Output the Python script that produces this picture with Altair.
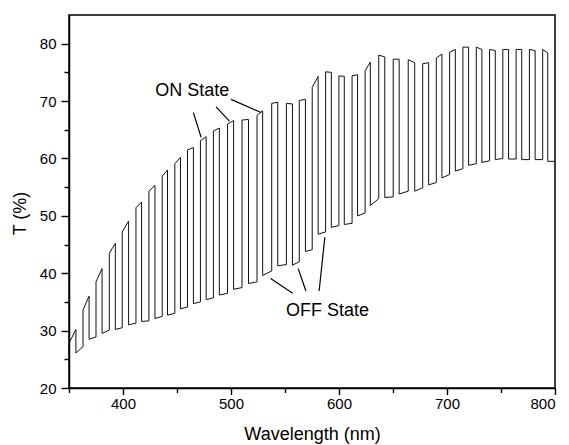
import altair as alt
import pandas as pd

# ---- data ----
# wavelength (nm) where each ON segment starts (rise) and ends (drop)
on_rise = [350.0, 363.0, 375.0, 387.3, 399.3, 412.0, 424.0, 436.3, 448.0, 459.7,
           471.7, 483.7, 496.8, 510.2, 524.1, 537.7, 551.3, 563.2, 575.2, 587.6,
           599.9, 612.1, 624.2, 636.8, 650.2, 664.1, 677.5, 690.1, 702.4, 714.7,
           727.1, 739.4, 751.7, 764.0, 776.3, 788.6]
off_drop = [356.4, 368.6, 380.6, 392.9, 405.2, 417.2, 429.6, 441.2, 453.2, 465.2,
            477.0, 489.2, 502.4, 516.2, 529.3, 543.3, 556.9, 568.9, 580.7, 592.9,
            604.9, 617.2, 629.0, 642.4, 655.7, 670.1, 683.0, 695.3, 707.7, 720.0,
            732.3, 744.7, 757.0, 769.2, 781.6, 793.3]
# transmittance (%) at start/end of each ON segment
on_start = [27.8, 33.6, 38.5, 43.5, 47.2, 51.4, 54.3, 56.9, 59.1, 61.5,
            63.1, 64.8, 66.0, 66.7, 67.5, 69.6, 69.6, 70.1, 72.4, 75.1,
            74.4, 74.4, 75.3, 78.0, 77.3, 77.2, 76.5, 77.5, 78.5, 79.4,
            79.4, 79.0, 79.0, 79.0, 79.0, 79.0]
on_end = [30.2, 36.0, 40.8, 45.2, 49.1, 52.4, 55.3, 58.0, 60.2, 61.9,
          63.8, 65.3, 66.6, 66.8, 68.3, 69.8, 69.5, 70.3, 74.3, 75.0,
          74.3, 74.6, 76.8, 77.7, 77.3, 76.7, 76.7, 78.2, 79.0, 79.4,
          79.0, 78.8, 79.0, 79.0, 78.8, 78.4]
# transmittance (%) at start/end of each OFF segment
off_start = [26.1, 28.5, 29.5, 30.2, 31.0, 31.6, 32.1, 32.7, 33.8, 34.7,
             35.4, 36.2, 37.2, 38.2, 39.6, 41.3, 41.4, 43.8, 46.8, 48.0,
             48.5, 50.0, 51.8, 53.2, 53.8, 54.3, 55.4, 56.6, 57.8, 58.8,
             59.3, 59.8, 59.9, 59.8, 59.8, 59.5]
off_end = [27.2, 28.9, 30.1, 30.5, 31.3, 31.7, 32.5, 33.0, 34.1, 35.0,
           35.7, 36.5, 37.5, 38.5, 40.4, 41.5, 42.0, 44.1, 47.2, 48.3,
           48.7, 50.5, 53.0, 53.3, 54.3, 54.9, 55.8, 57.2, 58.2, 59.1,
           59.6, 60.0, 59.9, 59.8, 59.8, 59.5]
start_t = 25.2
end_wl = 800.0

# annotations
label_text = ["ON State", "OFF State"]
label_x = [429.8, 550.9]
label_y = [70.8, 32.5]
lead_x = [465.2, 486.2, 500.1, 536.7, 562.2, 586.9]
lead_y = [68.0, 69.0, 70.3, 39.1, 40.8, 46.3]
lead_x2 = [472.3, 498.5, 527.8, 557.1, 569.4, 581.6]
lead_y2 = [63.7, 66.5, 68.0, 36.5, 36.9, 36.9]

x_major = [400, 500, 600, 700, 800]
x_minor = [350, 450, 550, 650, 750]
y_major = [20, 30, 40, 50, 60, 70, 80]
y_minor = [25, 35, 45, 55, 65, 75]

# ---- build line vertices ----
wl, tt = [on_rise[0]], [start_t]
n = len(on_rise)
for i in range(n):
    nxt = on_rise[i + 1] if i + 1 < n else end_wl
    wl += [on_rise[i], off_drop[i], off_drop[i], nxt]
    tt += [on_start[i], on_end[i], off_start[i], off_end[i]]
line_df = pd.DataFrame({"wl": wl, "T": tt, "order": list(range(len(wl)))})
lead_df = pd.DataFrame({"x": lead_x, "y": lead_y, "x2": lead_x2, "y2": lead_y2})
text_df = pd.DataFrame({"x": label_x, "y": label_y, "t": label_text})

FONT = "Liberation Sans"
xs = alt.Scale(domain=[350, 800], nice=False, zero=False)
ys = alt.Scale(domain=[20, 85], nice=False, zero=False)

x_axis = alt.Axis(values=x_major, tickSize=6.5, tickWidth=1.4, tickColor="black",
                  domainColor="black", domainWidth=1.5, labelFontSize=15,
                  labelFont=FONT, labelColor="black", labelPadding=2,
                  title="Wavelength (nm)", titleFont=FONT, titleFontSize=18,
                  titleFontWeight="normal", titleColor="black", titlePadding=14,
                  grid=False, orient="bottom")
y_axis = alt.Axis(values=y_major, tickSize=8, tickWidth=1.4, tickColor="black",
                  domainColor="black", domainWidth=1.5, labelFontSize=15,
                  labelFont=FONT, labelColor="black", labelPadding=5,
                  title="T (%)", titleFont=FONT, titleFontSize=18,
                  titleFontWeight="normal", titleColor="black",
                  titleX=-40, titleY=198, grid=False, orient="left")
x_axis_minor = alt.Axis(values=x_minor, tickSize=4.5, tickWidth=1.4, tickColor="black",
                        domain=False, labels=False, title=None, grid=False, orient="bottom")
y_axis_minor = alt.Axis(values=y_minor, tickSize=5, tickWidth=1.4, tickColor="black",
                        domain=False, labels=False, title=None, grid=False, orient="left")

line = alt.Chart(line_df).mark_line(color="#111111", strokeWidth=1.0).encode(
    x=alt.X("wl:Q", scale=xs, axis=x_axis),
    y=alt.Y("T:Q", scale=ys, axis=y_axis),
    order="order:Q",
)
leads = alt.Chart(lead_df).mark_rule(color="black", strokeWidth=1.2).encode(
    x=alt.X("x:Q", scale=xs, axis=x_axis_minor),
    y=alt.Y("y:Q", scale=ys, axis=y_axis_minor),
    x2="x2:Q",
    y2="y2:Q",
)
texts = alt.Chart(text_df).mark_text(align="left", baseline="alphabetic",
                                     fontSize=18, font=FONT, color="black").encode(
    x=alt.X("x:Q", scale=xs, axis=None),
    y=alt.Y("y:Q", scale=ys, axis=None),
    text="t:N",
)

chart = alt.layer(line, leads, texts).resolve_axis(
    x="independent", y="independent"
).properties(
    width=486, height=373,
    padding={"left": 61, "top": 7, "right": 5, "bottom": 57},
    autosize=alt.AutoSizeParams(type="none"),
    background="white",
).configure_view(stroke="black", strokeWidth=1.5)

chart.save("out.html", embed_options={"renderer": "svg", "actions": False})
